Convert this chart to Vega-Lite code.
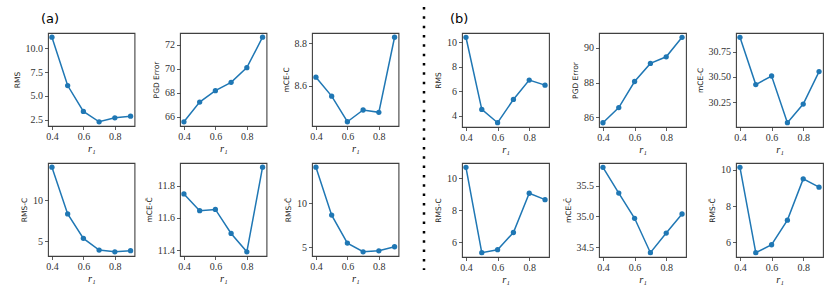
{
  "$schema": "https://vega.github.io/schema/vega-lite/v6.json",
  "padding": {"left": 12, "top": 5, "right": 5, "bottom": 5},
  "background": "white",
  "datasets": {
    "d": [
      {"p": "a1", "r": 0.4, "v": 11.16}, {"p": "a1", "r": 0.5, "v": 6.09}, {"p": "a1", "r": 0.6, "v": 3.38}, {"p": "a1", "r": 0.7, "v": 2.29}, {"p": "a1", "r": 0.8, "v": 2.71}, {"p": "a1", "r": 0.9, "v": 2.88},
      {"p": "a2", "r": 0.4, "v": 65.58}, {"p": "a2", "r": 0.5, "v": 67.22}, {"p": "a2", "r": 0.6, "v": 68.17}, {"p": "a2", "r": 0.7, "v": 68.86}, {"p": "a2", "r": 0.8, "v": 70.08}, {"p": "a2", "r": 0.9, "v": 72.61},
      {"p": "a3", "r": 0.4, "v": 8.640}, {"p": "a3", "r": 0.5, "v": 8.551}, {"p": "a3", "r": 0.6, "v": 8.431}, {"p": "a3", "r": 0.7, "v": 8.486}, {"p": "a3", "r": 0.8, "v": 8.475}, {"p": "a3", "r": 0.9, "v": 8.827},
      {"p": "a4", "r": 0.4, "v": 14.02}, {"p": "a4", "r": 0.5, "v": 8.34}, {"p": "a4", "r": 0.6, "v": 5.37}, {"p": "a4", "r": 0.7, "v": 3.95}, {"p": "a4", "r": 0.8, "v": 3.74}, {"p": "a4", "r": 0.9, "v": 3.87},
      {"p": "a5", "r": 0.4, "v": 11.748}, {"p": "a5", "r": 0.5, "v": 11.644}, {"p": "a5", "r": 0.6, "v": 11.652}, {"p": "a5", "r": 0.7, "v": 11.503}, {"p": "a5", "r": 0.8, "v": 11.389}, {"p": "a5", "r": 0.9, "v": 11.914},
      {"p": "a6", "r": 0.4, "v": 14.12}, {"p": "a6", "r": 0.5, "v": 8.67}, {"p": "a6", "r": 0.6, "v": 5.49}, {"p": "a6", "r": 0.7, "v": 4.50}, {"p": "a6", "r": 0.8, "v": 4.61}, {"p": "a6", "r": 0.9, "v": 5.07},
      {"p": "b1", "r": 0.4, "v": 10.41}, {"p": "b1", "r": 0.5, "v": 4.52}, {"p": "b1", "r": 0.6, "v": 3.43}, {"p": "b1", "r": 0.7, "v": 5.33}, {"p": "b1", "r": 0.8, "v": 6.91}, {"p": "b1", "r": 0.9, "v": 6.50},
      {"p": "b2", "r": 0.4, "v": 85.69}, {"p": "b2", "r": 0.5, "v": 86.56}, {"p": "b2", "r": 0.6, "v": 88.06}, {"p": "b2", "r": 0.7, "v": 89.10}, {"p": "b2", "r": 0.8, "v": 89.48}, {"p": "b2", "r": 0.9, "v": 90.60},
      {"p": "b3", "r": 0.4, "v": 30.896}, {"p": "b3", "r": 0.5, "v": 30.424}, {"p": "b3", "r": 0.6, "v": 30.51}, {"p": "b3", "r": 0.7, "v": 30.044}, {"p": "b3", "r": 0.8, "v": 30.23}, {"p": "b3", "r": 0.9, "v": 30.554},
      {"p": "b4", "r": 0.4, "v": 10.69}, {"p": "b4", "r": 0.5, "v": 5.33}, {"p": "b4", "r": 0.6, "v": 5.52}, {"p": "b4", "r": 0.7, "v": 6.60}, {"p": "b4", "r": 0.8, "v": 9.06}, {"p": "b4", "r": 0.9, "v": 8.66},
      {"p": "b5", "r": 0.4, "v": 35.80}, {"p": "b5", "r": 0.5, "v": 35.38}, {"p": "b5", "r": 0.6, "v": 34.97}, {"p": "b5", "r": 0.7, "v": 34.41}, {"p": "b5", "r": 0.8, "v": 34.73}, {"p": "b5", "r": 0.9, "v": 35.04},
      {"p": "b6", "r": 0.4, "v": 10.15}, {"p": "b6", "r": 0.5, "v": 5.43}, {"p": "b6", "r": 0.6, "v": 5.87}, {"p": "b6", "r": 0.7, "v": 7.23}, {"p": "b6", "r": 0.8, "v": 9.51}, {"p": "b6", "r": 0.9, "v": 9.05}
    ],
    "sep": [{"x": 1, "top": 1, "bottom": 0}]
  },
  "bounds": "flush",
  "columns": 12,
  "spacing": {"row": 36, "column": 0},
  "concat": [
    {"width": 86.5, "height": 93, "data": {"name": "d"}, "transform": [{"filter": "datum.p === 'a1'"}],
     "title": {"text": "(a)", "anchor": "start", "frame": "group", "dx": -7, "offset": 7, "font": "DejaVu Sans", "fontSize": 13, "fontWeight": "normal", "color": "black"},
     "mark": {"type": "line", "color": "#1f77b4", "strokeWidth": 1.5, "point": {"filled": true, "size": 28, "color": "#1f77b4", "opacity": 1}},
     "encoding": {
       "x": {"field": "r", "type": "quantitative", "scale": {"domain": [0.375, 0.925], "nice": false, "zero": false}, "axis": {"values": [0.4, 0.6, 0.8], "format": ".1f", "title": "r₁"}},
       "y": {"field": "v", "type": "quantitative", "scale": {"domain": [1.85, 11.6], "nice": false, "zero": false}, "axis": {"values": [2.5, 5, 7.5, 10], "format": ".1f", "title": "RMS"}}}},
    {"width": 44.5, "height": 93, "view": {"stroke": null}, "data": {"name": "sep"}, "transform": [{"filter": "false"}], "mark": "point", "encoding": {}},
    {"width": 86.5, "height": 93, "data": {"name": "d"}, "transform": [{"filter": "datum.p === 'a2'"}],
     "mark": {"type": "line", "color": "#1f77b4", "strokeWidth": 1.5, "point": {"filled": true, "size": 28, "color": "#1f77b4", "opacity": 1}},
     "encoding": {
       "x": {"field": "r", "type": "quantitative", "scale": {"domain": [0.375, 0.925], "nice": false, "zero": false}, "axis": {"values": [0.4, 0.6, 0.8], "format": ".1f", "title": "r₁"}},
       "y": {"field": "v", "type": "quantitative", "scale": {"domain": [65.23, 72.96], "nice": false, "zero": false}, "axis": {"values": [66, 68, 70, 72], "format": "d", "title": "PGD Error"}}}},
    {"width": 44.5, "height": 93, "view": {"stroke": null}, "data": {"name": "sep"}, "transform": [{"filter": "false"}], "mark": "point", "encoding": {}},
    {"width": 86.5, "height": 93, "data": {"name": "d"}, "transform": [{"filter": "datum.p === 'a3'"}],
     "mark": {"type": "line", "color": "#1f77b4", "strokeWidth": 1.5, "point": {"filled": true, "size": 28, "color": "#1f77b4", "opacity": 1}},
     "encoding": {
       "x": {"field": "r", "type": "quantitative", "scale": {"domain": [0.375, 0.925], "nice": false, "zero": false}, "axis": {"values": [0.4, 0.6, 0.8], "format": ".1f", "title": "r₁"}},
       "y": {"field": "v", "type": "quantitative", "scale": {"domain": [8.411, 8.847], "nice": false, "zero": false}, "axis": {"values": [8.6, 8.8], "format": ".1f", "title": "mCE-C"}}}},
    {"width": 25, "height": 94, "view": {"stroke": null}, "data": {"name": "sep"},
     "mark": {"type": "rule", "color": "black", "strokeWidth": 2.5, "strokeDash": [2.5, 6.83], "strokeCap": "butt", "yOffset": -26, "y2Offset": 143},
     "encoding": {
       "x": {"field": "x", "type": "quantitative", "scale": {"domain": [0, 1]}, "axis": null},
       "y": {"field": "top", "type": "quantitative", "scale": {"domain": [0, 1]}, "axis": null},
       "y2": {"field": "bottom"}}},
    {"width": 38, "height": 93, "view": {"stroke": null}, "data": {"name": "sep"}, "transform": [{"filter": "false"}], "mark": "point", "encoding": {}},
    {"width": 87, "height": 94, "data": {"name": "d"}, "transform": [{"filter": "datum.p === 'b1'"}],
     "title": {"text": "(b)", "anchor": "start", "frame": "group", "dx": -12, "offset": 7, "font": "DejaVu Sans", "fontSize": 13, "fontWeight": "normal", "color": "black"},
     "mark": {"type": "line", "color": "#1f77b4", "strokeWidth": 1.5, "point": {"filled": true, "size": 28, "color": "#1f77b4", "opacity": 1}},
     "encoding": {
       "x": {"field": "r", "type": "quantitative", "scale": {"domain": [0.375, 0.925], "nice": false, "zero": false}, "axis": {"values": [0.4, 0.6, 0.8], "format": ".1f", "title": "r₁"}},
       "y": {"field": "v", "type": "quantitative", "scale": {"domain": [3.081, 10.759], "nice": false, "zero": false}, "axis": {"values": [4, 6, 8, 10], "format": "d", "title": "RMS"}}}},
    {"width": 50, "height": 93, "view": {"stroke": null}, "data": {"name": "sep"}, "transform": [{"filter": "false"}], "mark": "point", "encoding": {}},
    {"width": 87, "height": 94, "data": {"name": "d"}, "transform": [{"filter": "datum.p === 'b2'"}],
     "mark": {"type": "line", "color": "#1f77b4", "strokeWidth": 1.5, "point": {"filled": true, "size": 28, "color": "#1f77b4", "opacity": 1}},
     "encoding": {
       "x": {"field": "r", "type": "quantitative", "scale": {"domain": [0.375, 0.925], "nice": false, "zero": false}, "axis": {"values": [0.4, 0.6, 0.8], "format": ".1f", "title": "r₁"}},
       "y": {"field": "v", "type": "quantitative", "scale": {"domain": [85.445, 90.846], "nice": false, "zero": false}, "axis": {"values": [86, 88, 90], "format": "d", "title": "PGD Error"}}}},
    {"width": 50, "height": 93, "view": {"stroke": null}, "data": {"name": "sep"}, "transform": [{"filter": "false"}], "mark": "point", "encoding": {}},
    {"width": 87, "height": 94, "data": {"name": "d"}, "transform": [{"filter": "datum.p === 'b3'"}],
     "mark": {"type": "line", "color": "#1f77b4", "strokeWidth": 1.5, "point": {"filled": true, "size": 28, "color": "#1f77b4", "opacity": 1}},
     "encoding": {
       "x": {"field": "r", "type": "quantitative", "scale": {"domain": [0.375, 0.925], "nice": false, "zero": false}, "axis": {"values": [0.4, 0.6, 0.8], "format": ".1f", "title": "r₁"}},
       "y": {"field": "v", "type": "quantitative", "scale": {"domain": [30.001, 30.939], "nice": false, "zero": false}, "axis": {"values": [30.25, 30.5, 30.75], "format": ".2f", "title": "mCE-C"}}}},

    {"width": 86.5, "height": 93, "data": {"name": "d"}, "transform": [{"filter": "datum.p === 'a4'"}],
     "mark": {"type": "line", "color": "#1f77b4", "strokeWidth": 1.5, "point": {"filled": true, "size": 28, "color": "#1f77b4", "opacity": 1}},
     "encoding": {
       "x": {"field": "r", "type": "quantitative", "scale": {"domain": [0.375, 0.925], "nice": false, "zero": false}, "axis": {"values": [0.4, 0.6, 0.8], "format": ".1f", "title": "r₁"}},
       "y": {"field": "v", "type": "quantitative", "scale": {"domain": [3.226, 14.534], "nice": false, "zero": false}, "axis": {"values": [5, 10], "format": "d", "title": "RMS-C"}}}},
    {"width": 44.5, "height": 93, "view": {"stroke": null}, "data": {"name": "sep"}, "transform": [{"filter": "false"}], "mark": "point", "encoding": {}},
    {"width": 86.5, "height": 93, "data": {"name": "d"}, "transform": [{"filter": "datum.p === 'a5'"}],
     "mark": {"type": "line", "color": "#1f77b4", "strokeWidth": 1.5, "point": {"filled": true, "size": 28, "color": "#1f77b4", "opacity": 1}},
     "encoding": {
       "x": {"field": "r", "type": "quantitative", "scale": {"domain": [0.375, 0.925], "nice": false, "zero": false}, "axis": {"values": [0.4, 0.6, 0.8], "format": ".1f", "title": "r₁"}},
       "y": {"field": "v", "type": "quantitative", "scale": {"domain": [11.363, 11.94], "nice": false, "zero": false}, "axis": {"values": [11.4, 11.6, 11.8], "format": ".1f", "title": "mCE-C̄"}}}},
    {"width": 44.5, "height": 93, "view": {"stroke": null}, "data": {"name": "sep"}, "transform": [{"filter": "false"}], "mark": "point", "encoding": {}},
    {"width": 86.5, "height": 93, "data": {"name": "d"}, "transform": [{"filter": "datum.p === 'a6'"}],
     "mark": {"type": "line", "color": "#1f77b4", "strokeWidth": 1.5, "point": {"filled": true, "size": 28, "color": "#1f77b4", "opacity": 1}},
     "encoding": {
       "x": {"field": "r", "type": "quantitative", "scale": {"domain": [0.375, 0.925], "nice": false, "zero": false}, "axis": {"values": [0.4, 0.6, 0.8], "format": ".1f", "title": "r₁"}},
       "y": {"field": "v", "type": "quantitative", "scale": {"domain": [4.019, 14.601], "nice": false, "zero": false}, "axis": {"values": [5, 10], "format": "d", "title": "RMS-C̄"}}}},
    {"width": 25, "height": 93, "view": {"stroke": null}, "data": {"name": "sep"}, "transform": [{"filter": "false"}], "mark": "point", "encoding": {}},
    {"width": 38, "height": 93, "view": {"stroke": null}, "data": {"name": "sep"}, "transform": [{"filter": "false"}], "mark": "point", "encoding": {}},
    {"width": 87, "height": 94, "data": {"name": "d"}, "transform": [{"filter": "datum.p === 'b4'"}],
     "mark": {"type": "line", "color": "#1f77b4", "strokeWidth": 1.5, "point": {"filled": true, "size": 28, "color": "#1f77b4", "opacity": 1}},
     "encoding": {
       "x": {"field": "r", "type": "quantitative", "scale": {"domain": [0.375, 0.925], "nice": false, "zero": false}, "axis": {"values": [0.4, 0.6, 0.8], "format": ".1f", "title": "r₁"}},
       "y": {"field": "v", "type": "quantitative", "scale": {"domain": [5.062, 10.958], "nice": false, "zero": false}, "axis": {"values": [6, 8, 10], "format": "d", "title": "RMS-C"}}}},
    {"width": 50, "height": 93, "view": {"stroke": null}, "data": {"name": "sep"}, "transform": [{"filter": "false"}], "mark": "point", "encoding": {}},
    {"width": 87, "height": 94, "data": {"name": "d"}, "transform": [{"filter": "datum.p === 'b5'"}],
     "mark": {"type": "line", "color": "#1f77b4", "strokeWidth": 1.5, "point": {"filled": true, "size": 28, "color": "#1f77b4", "opacity": 1}},
     "encoding": {
       "x": {"field": "r", "type": "quantitative", "scale": {"domain": [0.375, 0.925], "nice": false, "zero": false}, "axis": {"values": [0.4, 0.6, 0.8], "format": ".1f", "title": "r₁"}},
       "y": {"field": "v", "type": "quantitative", "scale": {"domain": [34.34, 35.87], "nice": false, "zero": false}, "axis": {"values": [34.5, 35, 35.5], "format": ".1f", "title": "mCE-C̄"}}}},
    {"width": 50, "height": 93, "view": {"stroke": null}, "data": {"name": "sep"}, "transform": [{"filter": "false"}], "mark": "point", "encoding": {}},
    {"width": 87, "height": 94, "data": {"name": "d"}, "transform": [{"filter": "datum.p === 'b6'"}],
     "mark": {"type": "line", "color": "#1f77b4", "strokeWidth": 1.5, "point": {"filled": true, "size": 28, "color": "#1f77b4", "opacity": 1}},
     "encoding": {
       "x": {"field": "r", "type": "quantitative", "scale": {"domain": [0.375, 0.925], "nice": false, "zero": false}, "axis": {"values": [0.4, 0.6, 0.8], "format": ".1f", "title": "r₁"}},
       "y": {"field": "v", "type": "quantitative", "scale": {"domain": [5.194, 10.386], "nice": false, "zero": false}, "axis": {"values": [6, 8, 10], "format": "d", "title": "RMS-C̄"}}}}
  ],
  "config": {
    "view": {"stroke": "#404040", "strokeWidth": 1.1},
    "axis": {
      "domain": false, "grid": false,
      "tickColor": "#333333", "tickSize": 3.5, "tickWidth": 0.8,
      "labelFont": "Liberation Serif", "labelFontSize": 10, "labelColor": "#333333", "labelPadding": 2,
      "titleFont": "DejaVu Sans", "titleFontSize": 7.5, "titleFontWeight": "normal", "titleColor": "#222222", "titlePadding": 4
    },
    "axisX": {"titleFont": "Liberation Serif", "titleFontStyle": "italic", "titleFontSize": 10.5, "titlePadding": 2}
  }
}
